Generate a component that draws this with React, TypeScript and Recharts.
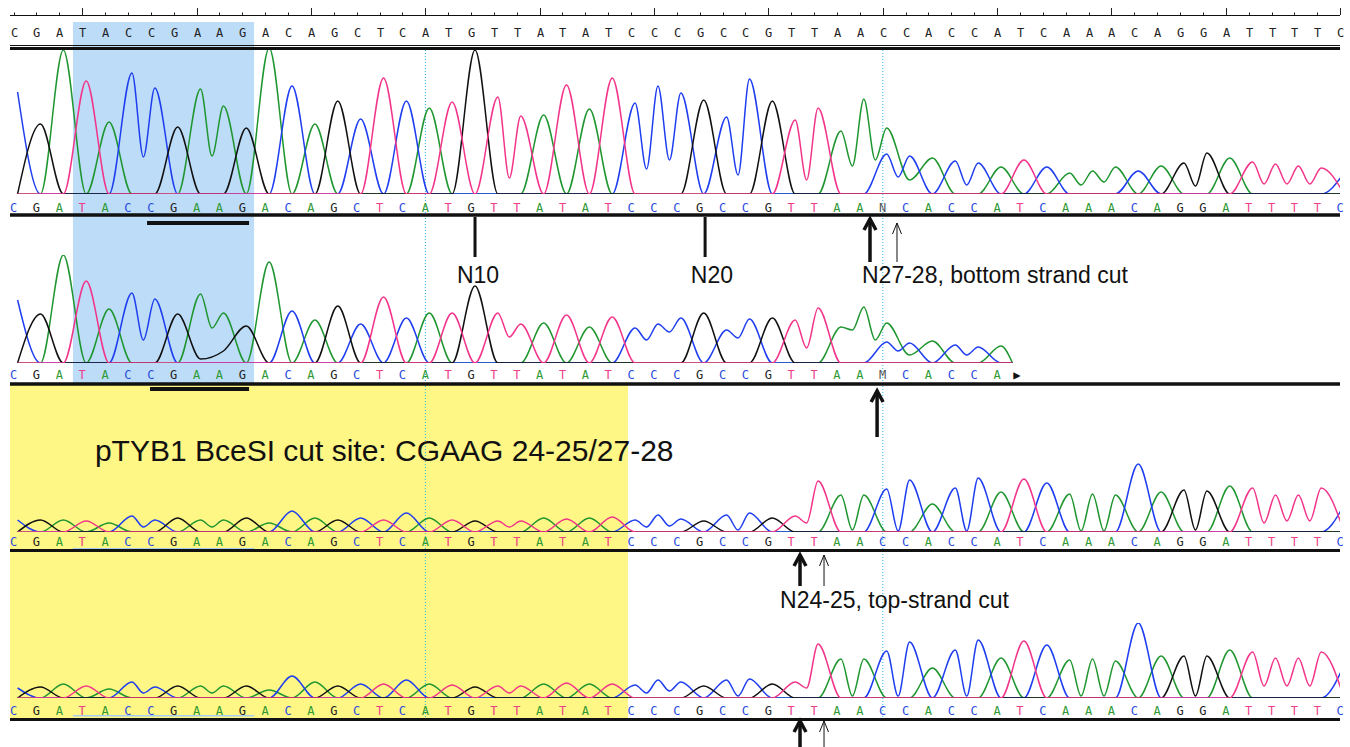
import React from "react";
import {
    LineChart,
    Line,
    XAxis,
    YAxis,
    ReferenceArea,
    ReferenceLine,
    ReferenceDot
} from "recharts";

// reference sequence (top ruler row)
const SEQ = "CGATACCGAAGACAGCTCATGTTATATCCCGCCGTTAACCACCATCAAACAGGATTTTC";

// panel 1 - control read
const CALLS_1 = "CGATACCGAAGACAGCTCATGTTATATCCCGCCGTTAANCACCATCAAACAGGATTTTC";
const BASES_1 = "CGATACCGAAGACAGCTCATGTTATATCCCGCCGTTAAACACCATCAAACAGGATTTTC";
const HEIGHTS_1 = [102, 70, 144, 113, 72, 121, 106, 67, 105, 88, 66, 146, 108, 70, 93, 75, 116, 93, 86, 92,
    144, 97, 78, 79, 109, 85, 116, 91, 108, 101, 94, 77, 115, 93, 74, 86, 63, 95, 66, 38,
    36, 33, 31, 27, 34, 27, 21, 23, 27, 23, 28, 31, 41, 36, 32, 30, 28, 26, 21];
const EXTRA_1: [number, string, number][] = [[38, "C", 40], [39, "A", 14]];
const VALLEYS_1: [number, string, number][] = [
    [5, "C", 37], [8, "A", 38], [21, "T", 16], [27, "C", 25], [28, "C", 34], [31, "C", 19],
    [34, "T", 14], [36, "A", 28], [37, "A", 34], [38, "C", 17], [41, "C", 9], [46, "A", 9],
    [47, "A", 12], [51, "G", 8], [54, "T", 10], [55, "T", 10], [56, "T", 10]
];

// panel 2 - short read
const CALLS_2 = "CGATACCGAAGACAGCTCATGTTATATCCCGCCGTTAAMCACCA▶";
const BASES_2 = "CGATACCGAAGACAGCTCATGTTATATCCCGCCGTTAAACACCA";
const HEIGHTS_2 = [63, 49, 108, 82, 54, 70, 64, 49, 69, 50, 37, 101, 52, 43, 57, 39, 66, 45, 50, 50,
    77, 50, 39, 40, 48, 36, 46, 35, 39, 45, 50, 33, 44, 45, 43, 55, 36, 56, 40, 20,
    22, 18, 16, 17];
const EXTRA_2: [number, string, number][] = [[8, "G", 4], [9, "G", 12], [38, "C", 21], [39, "A", 8]];
const VALLEYS_2: [number, string, number][] = [
    [5, "C", 23], [8, "A", 35], [21, "T", 26], [27, "C", 23], [28, "C", 31], [31, "C", 25],
    [34, "T", 15], [36, "A", 33], [37, "A", 23], [38, "C", 12], [41, "C", 8]
];

// panel 3 - top-strand cut read
const HEIGHTS_3 = [12, 12, 12, 11, 9, 16, 12, 14, 12, 12, 14, 9, 21, 14, 12, 14, 12, 19, 14, 12,
    11, 11, 11, 14, 13, 14, 15, 12, 17, 13, 11, 17, 19, 14, 16, 51, 37, 37, 43, 52,
    28, 44, 54, 40, 53, 49, 38, 38, 37, 68, 40, 42, 41, 46, 44, 37, 37, 44, 27];
const VALLEYS_3: [number, string, number][] = [
    [5, "C", 5], [8, "A", 5], [21, "T", 5], [27, "C", 5], [28, "C", 6], [31, "C", 2],
    [34, "T", 9], [36, "A", 2], [38, "C", 1], [41, "C", 1], [46, "A", 1], [47, "A", 1],
    [51, "G", 2], [54, "T", 9], [55, "T", 11], [56, "T", 11]
];

// panel 4 - repeat read
const HEIGHTS_4 = [10, 11, 14, 12, 9, 16, 11, 12, 12, 12, 12, 8, 22, 16, 12, 14, 14, 18, 14, 13,
    11, 12, 12, 14, 15, 14, 14, 13, 18, 16, 12, 18, 19, 14, 16, 54, 39, 39, 47, 56,
    30, 48, 58, 40, 57, 53, 38, 39, 37, 75, 42, 42, 42, 48, 46, 40, 40, 46, 33];
const VALLEYS_4: [number, string, number][] = [
    [5, "C", 5], [8, "A", 5], [21, "T", 5], [27, "C", 5], [28, "C", 7], [31, "C", 2],
    [34, "T", 10], [36, "A", 2], [38, "C", 2], [41, "C", 2], [46, "A", 2], [47, "A", 2],
    [51, "G", 2], [54, "T", 12], [55, "T", 12], [56, "T", 12]
];

const CHANNELS = ["A", "C", "G", "T"];
const TRACE: Record<string, string> = { A: "#1f9630", C: "#1e3ef0", G: "#111111", T: "#f2358a" };
const LETTER: Record<string, string> = { A: "#2f9a33", C: "#2a4be0", G: "#222222", T: "#ee3f88", "▶": "#111" };

const X_MIN = -0.332;
const X_MAX = 57.82;
const LETTER_SHIFT = -4;
const SANS = "'Liberation Sans', Arial, Helvetica, sans-serif";
const MONO = "'DejaVu Sans Mono', monospace";

function channelData(bases: string, heights: number[], extras: [number, string, number][],
    valleys: [number, string, number][], ch: string, tail: boolean) {
    const vals = bases.split("").map((b, i) => (b === ch ? heights[i] : 0));
    extras.forEach(([i, b, h]) => { if (b === ch) vals[i] = h; });
    const pts: { x: number; v: number }[] = [];
    vals.forEach((v, i) => {
        pts.push({ x: i, v });
        const vl = valleys.find(([j, b]) => j === i && b === ch);
        if (vl) pts.push({ x: i + 0.5, v: vl[2] });
    });
    if (tail) pts.push({ x: vals.length - 0.5, v: 0 });
    return pts;
}

const range = (n: number) => Array.from({ length: n }, (_, i) => i);
const rulerData = range(SEQ.length).map((i) => ({ x: i, v: 0 }));

function Panel(props: any) {
    const { top, height, marginTop, axisH, yMax, bases, heights, extras, valleys, calls, letterY, ruler, tail } = props;
    const LetterTick = ({ x, payload }: any) => {
        const c = calls[payload.value] || "";
        const tri = c === "▶";
        return (
            <text x={x + LETTER_SHIFT + (tri ? -3 : 0)} y={letterY + 4.5} textAnchor="middle" fontFamily={MONO}
                fontSize={tri ? 12 : 12} fill={LETTER[c] || "#555"}>{c}</text>
        );
    };
    const RulerTick = ({ x, payload }: any) => {
        const big = payload.value % 5 === 3;
        const xx = Math.round(x + LETTER_SHIFT) + 0.5;
        return (
            <g>
                <line x1={xx} x2={xx} y1={big ? 8 : 12.5} y2={15} stroke="#222" strokeWidth={1} />
                <text x={xx} y={36.5} textAnchor="middle" fontFamily={MONO} fontSize={12} fill="#222">{SEQ[payload.value]}</text>
            </g>
        );
    };
    return (
        <div style={{ position: "absolute", left: 0, top }}>
            <LineChart width={1350} height={height} margin={{ top: marginTop, right: 10, bottom: 0, left: 10 }}>
                <XAxis type="number" dataKey="x" domain={[X_MIN, X_MAX]} allowDataOverflow ticks={range(calls.length)}
                    interval={0} tick={<LetterTick />} axisLine={false} tickLine={false} height={axisH} />
                {ruler && (
                    <XAxis xAxisId="top" orientation="top" type="number" dataKey="x" domain={[X_MIN, X_MAX]} allowDataOverflow
                        ticks={range(SEQ.length)} interval={0} tick={<RulerTick />} axisLine={false} tickLine={false} height={50} />
                )}
                <YAxis hide type="number" domain={[0, yMax]} allowDataOverflow />
                {ruler && (
                    <Line xAxisId="top" data={rulerData} dataKey="v" stroke="none" dot={false} isAnimationActive={false} />
                )}
                {CHANNELS.map((ch) => (
                    <Line key={ch} data={channelData(bases, heights, extras, valleys, ch, tail)} dataKey="v"
                        type="monotone" stroke={TRACE[ch]} strokeWidth={1.5} dot={false} isAnimationActive={false} />
                ))}
            </LineChart>
        </div>
    );
}

function Arrow({ cx, cy, len, bold }: any) {
    const hw = bold ? 6 : 4.5;
    return (
        <g stroke="#111" fill="none" strokeWidth={bold ? 3.5 : 1}>
            <line x1={cx} y1={cy + 1} x2={cx} y2={cy + len} />
            <polyline points={`${cx - hw},${cy + 12} ${cx},${cy + 1} ${cx + hw},${cy + 12}`} />
        </g>
    );
}

const label = (text: string, size: number, anchor: string) => (p: any) => (
    <text x={p.cx} y={p.cy} fontFamily={SANS} fontSize={size} fill="#111" textAnchor={anchor}>{text}</text>
);

function Frame() {
    const rules: [number, number][] = [[15.5, 1], [45.5, 1], [48.5, 3], [215, 3.5], [384, 3.5], [550.5, 3], [719.5, 3]];
    const arrows: [number, number, number, boolean][] = [
        [37.27, 218, 44, true], [38.45, 222, 40, false], [37.58, 390, 47, true],
        [34.21, 554, 32, true], [35.26, 554, 32, false], [34.21, 720, 30, true], [35.26, 720, 30, false]
    ];
    return (
        <div style={{ position: "absolute", left: 0, top: 0 }}>
            <LineChart width={1350} height={747} margin={{ top: 0, right: 10, bottom: 0, left: 10 }}>
                <XAxis hide type="number" dataKey="x" domain={[X_MIN, X_MAX]} allowDataOverflow />
                <YAxis hide type="number" domain={[0, 747]} reversed allowDataOverflow />
                <ReferenceArea x1={2.42} x2={10.34} y1={22} y2={383} fill="#bddcf8" fillOpacity={1} stroke="none" ifOverflow="visible" />
                <ReferenceArea x1={X_MIN} x2={26.69} y1={384} y2={718} fill="#fef685" fillOpacity={1} stroke="none" ifOverflow="visible" />
                <ReferenceArea x1={2.42} x2={10.34} y1={548} y2={549.5} fill="#a9cdf0" fillOpacity={1} stroke="none" />
                <ReferenceArea x1={2.42} x2={10.34} y1={715} y2={716.5} fill="#a9cdf0" fillOpacity={1} stroke="none" />
                <ReferenceArea x1={5.66} x2={10.12} y1={221} y2={225} fill="#111" fillOpacity={1} stroke="none" />
                <ReferenceArea x1={5.79} x2={10.12} y1={387} y2={391} fill="#111" fillOpacity={1} stroke="none" />
                {[17.83, 37.83].map((x) => (
                    <ReferenceLine key={x} segment={[{ x, y: 50 }, { x, y: 722 }]} stroke="#2bb7ea" strokeWidth={1} strokeDasharray="1 2" />
                ))}
                {rules.map(([y, w]) => (
                    <ReferenceLine key={y} y={y} stroke="#111" strokeWidth={w} />
                ))}
                <ReferenceLine segment={[{ x: 20.0, y: 217 }, { x: 20.0, y: 257 }]} stroke="#111" strokeWidth={3} />
                <ReferenceLine segment={[{ x: 30.06, y: 217 }, { x: 30.06, y: 257 }]} stroke="#111" strokeWidth={3} />
                {arrows.map(([x, y, len, bold], i) => (
                    <ReferenceDot key={i} x={x} y={y} ifOverflow="visible"
                        shape={(p: any) => <Arrow cx={p.cx} cy={p.cy} len={len} bold={bold} />} />
                ))}
                <ReferenceDot x={20.13} y={283} shape={label("N10", 23, "middle")} />
                <ReferenceDot x={30.36} y={283} shape={label("N20", 23, "middle")} />
                <ReferenceDot x={36.92} y={283} shape={label("N27-28, bottom strand cut", 23, "start")} />
                <ReferenceDot x={3.38} y={461} shape={label("pTYB1 BceSI cut site: CGAAG 24-25/27-28", 30, "start")} />
                <ReferenceDot x={33.34} y={608} shape={label("N24-25, top-strand cut", 23, "start")} />
            </LineChart>
        </div>
    );
}

export default function App() {
    return (
        <div style={{ position: "absolute", left: 0, top: 0, width: 1350, height: 747, overflow: "hidden", background: "#fff" }}>
            <Frame />
            <Panel top={0} height={230} marginTop={0} axisH={36} yMax={144} bases={BASES_1} heights={HEIGHTS_1}
                extras={EXTRA_1} valleys={VALLEYS_1} calls={CALLS_1} letterY={207} ruler tail={false} />
            <Panel top={230} height={160} marginTop={25} axisH={27} yMax={108} bases={BASES_2} heights={HEIGHTS_2}
                extras={EXTRA_2} valleys={VALLEYS_2} calls={CALLS_2} letterY={144} tail />
            <Panel top={440} height={120} marginTop={22} axisH={28} yMax={70} bases={SEQ} heights={HEIGHTS_3}
                extras={[]} valleys={VALLEYS_3} calls={SEQ} letterY={101} tail={false} />
            <Panel top={600} height={130} marginTop={23} axisH={32} yMax={75} bases={SEQ} heights={HEIGHTS_4}
                extras={[]} valleys={VALLEYS_4} calls={SEQ} letterY={110} tail={false} />
        </div>
    );
}
